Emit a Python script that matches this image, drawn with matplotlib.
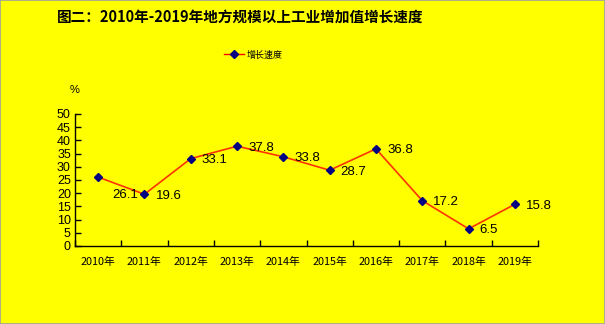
import matplotlib
matplotlib.use("Agg")
import matplotlib.pyplot as plt
from matplotlib.lines import Line2D

plt.rcParams['font.family'] = ['Noto Sans CJK SC', 'DejaVu Sans']

years = ['2010年', '2011年', '2012年', '2013年', '2014年',
         '2015年', '2016年', '2017年', '2018年', '2019年']
growth = [26.1, 19.6, 33.1, 37.8, 33.8, 28.7, 36.8, 17.2, 6.5, 15.8]
y_ticks = [0, 5, 10, 15, 20, 25, 30, 35, 40, 45, 50]

fig = plt.figure(figsize=(6.05, 3.24), dpi=100, facecolor='#FFFF00')
fig.patches.append(plt.Rectangle((0, 0), 1, 1, transform=fig.transFigure,
                                 fill=False, edgecolor='#A0A0A0', linewidth=1.2))

# 坐标区：左 75px，右 538px，0 在 246px，50 在 114px
ax = fig.add_axes([75 / 605, 1 - 246 / 324, 463 / 605, 132 / 324])
ax.set_facecolor('#FFFF00')

x = list(range(len(years)))
ax.plot(x, growth, color='#FF3300', linewidth=1.2, marker='D', markersize=4.5,
        markerfacecolor='#000080', markeredgecolor='#000080')

for i, v in enumerate(growth):
    if i == 0:
        ax.annotate(f'{v}', (i, v), xytext=(10, -13), textcoords='offset points',
                    fontsize=9.5, va='center', ha='left', family='Liberation Sans')
    else:
        ax.annotate(f'{v}', (i, v), xytext=(8, -1), textcoords='offset points',
                    fontsize=9.5, va='center', ha='left', family='Liberation Sans')

ax.set_xlim(-0.5, len(years) - 0.5)
ax.set_ylim(0, 50)
ax.set_yticks(y_ticks)
ax.set_yticklabels([str(t) for t in y_ticks], family='Liberation Sans', fontsize=9)
ax.set_xticks([i + 0.5 for i in range(-1, len(years))])
ax.set_xticklabels([])
ax.set_xticks(x, minor=True)
ax.set_xticklabels(years, minor=True, fontsize=7.8)
ax.tick_params(axis='x', which='minor', length=0, pad=8)
ax.tick_params(axis='x', which='major', direction='in', length=4, width=1)
ax.tick_params(axis='y', direction='in', length=4, width=1, pad=3)

for s in ['top', 'right']:
    ax.spines[s].set_visible(False)
for s in ['left', 'bottom']:
    ax.spines[s].set_linewidth(1)

fig.text(70 / 605, 1 - 90 / 324, '%', fontsize=8, ha='left', va='center',
         family='Liberation Sans')

fig.text(57 / 605, 1 - 17 / 324, '图二：2010年-2019年地方规模以上工业增加值增长速度',
         fontsize=10.5, fontweight='bold', ha='left', va='center')

handle = Line2D([], [], color='#FF0000', linewidth=1, marker='D', markersize=4,
                markerfacecolor='#000080', markeredgecolor='#000080')
fig.legend([handle], ['增长速度'], loc='center', bbox_to_anchor=(253 / 605, 1 - 55 / 324),
           frameon=False, fontsize=6.5, handlelength=2.2, handletextpad=0.3)

fig.savefig('out.png', dpi=100, facecolor=fig.get_facecolor())
